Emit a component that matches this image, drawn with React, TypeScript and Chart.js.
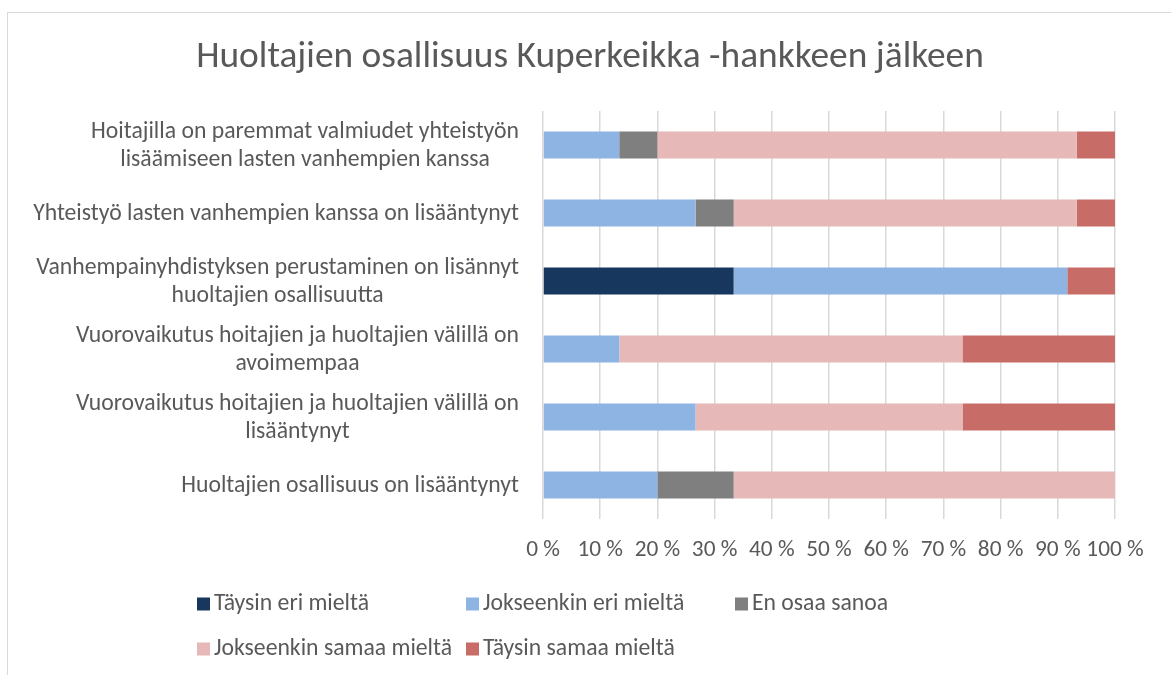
import React, { useEffect, useRef } from "react";
import { Chart, registerables } from "chart.js";

Chart.register(...registerables);

const chartTitle = "Huoltajien osallisuus Kuperkeikka -hankkeen jälkeen";

const categories: string[][] = [
  ["Hoitajilla on paremmat valmiudet yhteistyön", "lisäämiseen lasten vanhempien kanssa"],
  ["Yhteistyö lasten vanhempien kanssa on lisääntynyt"],
  ["Vanhempainyhdistyksen perustaminen on lisännyt", "huoltajien osallisuutta"],
  ["Vuorovaikutus hoitajien ja huoltajien välillä on", "avoimempaa"],
  ["Vuorovaikutus hoitajien ja huoltajien välillä on", "lisääntynyt"],
  ["Huoltajien osallisuus on lisääntynyt"],
];

const seriesLabels = [
  "Täysin eri mieltä",
  "Jokseenkin eri mieltä",
  "En osaa sanoa",
  "Jokseenkin samaa mieltä",
  "Täysin samaa mieltä",
];

const taysinEri = [0, 0, 33.33, 0, 0, 0];
const jokseenkinEri = [13.33, 26.67, 58.33, 13.33, 26.67, 20];
const enOsaa = [6.67, 6.67, 0, 0, 0, 13.33];
const jokseenkinSamaa = [73.33, 60, 0, 60, 46.67, 66.67];
const taysinSamaa = [6.67, 6.67, 8.34, 26.67, 26.66, 0];

const seriesColors = ["#17375e", "#8eb4e3", "#7f7f7f", "#e6b9b8", "#c86c68"];

const FONT = "Carlito, Lato, sans-serif";
const TEXT = "#595959";
const LABEL_SIZE = 23.7;

const titlePlugin = {
  id: "customTitle",
  afterDraw(chart: any) {
    const ctx = chart.ctx;
    ctx.save();
    ctx.font = `37.4px ${FONT}`;
    ctx.fillStyle = TEXT;
    ctx.textAlign = "center";
    ctx.textBaseline = "middle";
    ctx.fillText(chartTitle, 590, 58);
    ctx.restore();
  },
};

const yLabelPlugin = {
  id: "yLabels",
  afterDraw(chart: any) {
    const ctx = chart.ctx;
    const y = chart.scales.y;
    const right = chart.chartArea.left - 24;
    ctx.save();
    ctx.font = `${LABEL_SIZE}px ${FONT}`;
    ctx.fillStyle = TEXT;
    ctx.textAlign = "center";
    ctx.textBaseline = "middle";
    const lh = 28;
    (chart.data.labels as string[][]).forEach((lines, i) => {
      const cy = y.getPixelForValue(i) + 1;
      const maxW = Math.max(...lines.map((l) => ctx.measureText(l).width));
      const cx = right - maxW / 2;
      lines.forEach((l, j) => {
        ctx.fillText(l, cx, cy + (j - (lines.length - 1) / 2) * lh);
      });
    });
    ctx.restore();
  },
};

const legendPlugin = {
  id: "customLegend",
  afterDraw(chart: any) {
    const ctx = chart.ctx;
    ctx.save();
    ctx.font = `${LABEL_SIZE}px ${FONT}`;
    ctx.textBaseline = "middle";
    ctx.textAlign = "left";
    chart.data.datasets.forEach((ds: any, i: number) => {
      const col = i % 3;
      const row = Math.floor(i / 3);
      const x = 197 + col * 269;
      const cy = 604 + row * 45;
      ctx.fillStyle = ds.backgroundColor;
      ctx.fillRect(x, cy - 6.5, 13, 13);
      ctx.fillStyle = TEXT;
      ctx.fillText(ds.label, x + 17, cy);
    });
    ctx.restore();
  },
};

export default function App() {
  const ref = useRef<HTMLCanvasElement>(null);
  useEffect(() => {
    if (!ref.current) return;
    const values = [taysinEri, jokseenkinEri, enOsaa, jokseenkinSamaa, taysinSamaa];
    const chart = new Chart(ref.current, {
      type: "bar",
      data: {
        labels: categories as any,
        datasets: seriesLabels.map((label, i) => ({
          label,
          data: values[i],
          backgroundColor: seriesColors[i],
          borderWidth: 0,
          categoryPercentage: 0.4,
          barPercentage: 1,
        })),
      },
      options: {
        indexAxis: "y",
        animation: false,
        responsive: false,
        layout: { padding: { top: 111, left: 0, right: 56, bottom: 112 } },
        plugins: {
          legend: { display: false },
          tooltip: { enabled: false },
          title: { display: false },
        },
        scales: {
          x: {
            stacked: true,
            min: 0,
            max: 100,
            border: { display: false },
            grid: { color: "#d9d9d9", lineWidth: 1.5, drawTicks: false },
            ticks: {
              stepSize: 10,
              padding: 17,
              minRotation: 0,
              maxRotation: 0,
              autoSkip: false,
              color: TEXT,
              font: { family: FONT, size: 23.3 },
              callback: (v: any) => `${v} %`,
            },
            afterFit: (s: any) => {
              s.paddingLeft = 0;
              s.paddingRight = 0;
              s.height = 44;
            },
          },
          y: {
            stacked: true,
            border: { display: false },
            grid: { display: false },
            ticks: { display: false },
            afterFit: (s: any) => {
              s.width = 543;
            },
          },
        },
      },
      plugins: [titlePlugin, yLabelPlugin, legendPlugin],
    });
    return () => chart.destroy();
  }, []);

  return (
    <div style={{ position: "fixed", left: 0, top: 0, width: 1171, height: 675, overflow: "hidden", background: "#fff" }}>
      <div
        style={{
          position: "absolute",
          left: 7,
          top: 12,
          width: 1200,
          height: 700,
          border: "1px solid #d9d9d9",
          boxSizing: "border-box",
        }}
      />
      <canvas ref={ref} width={1171} height={675} style={{ position: "absolute", left: 0, top: 0 }} />
    </div>
  );
}
